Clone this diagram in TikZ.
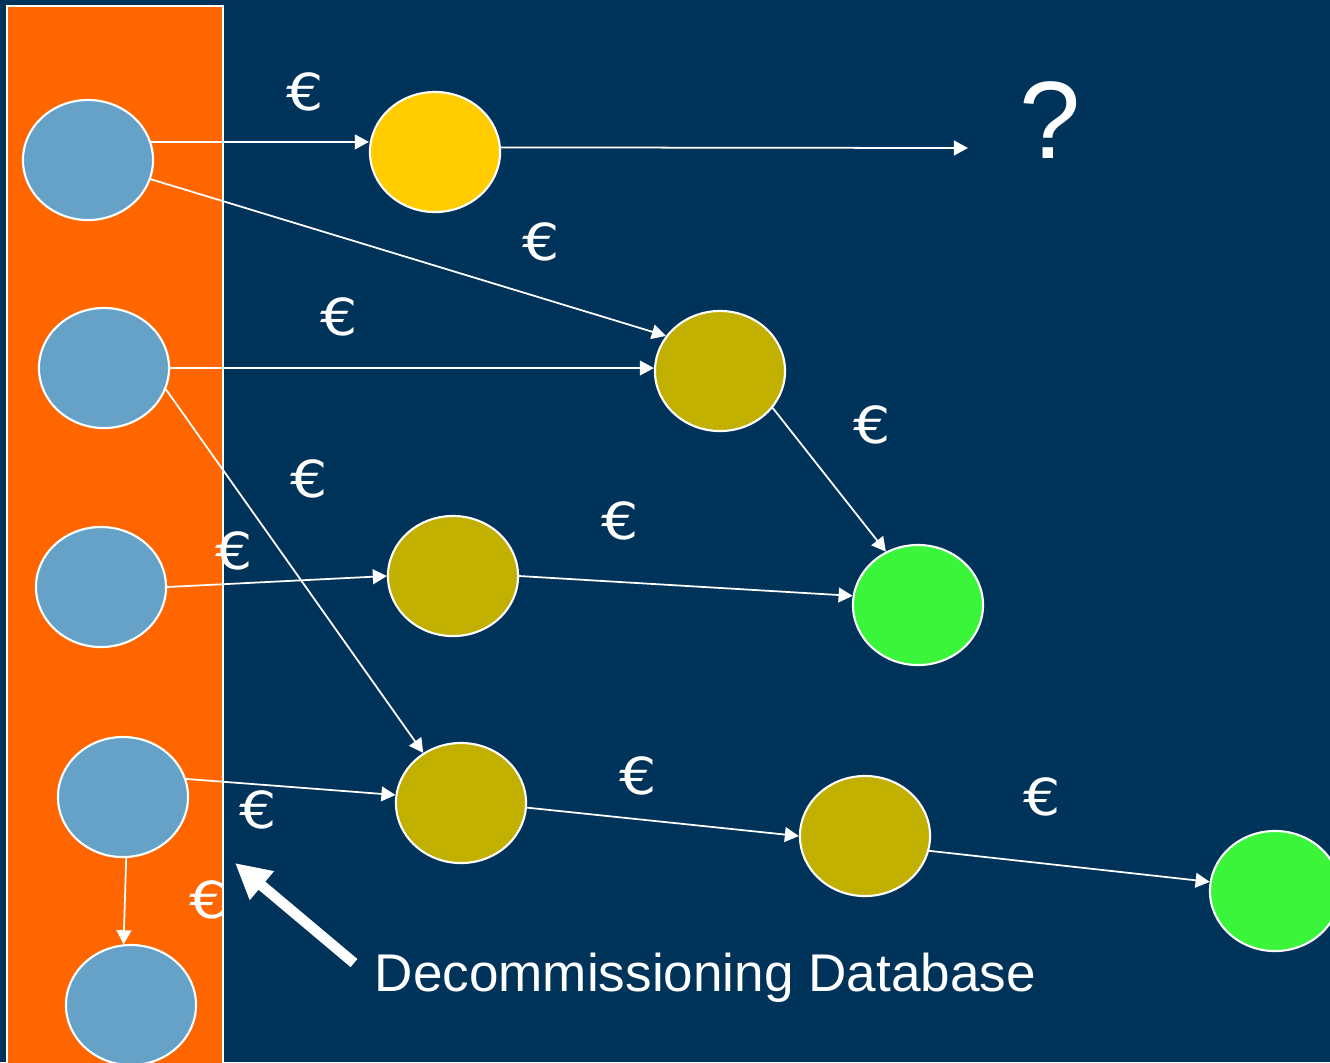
\documentclass[tikz,border=0pt]{standalone}
\usepackage{fontspec}
\setmainfont{Liberation Sans}
\newfontfamily\eurofont[FakeStretch=1.15]{DejaVu Sans}
\usetikzlibrary{shapes.geometric,arrows.meta}
\definecolor{navy}{RGB}{0,51,89}
\definecolor{dborange}{RGB}{255,102,0}
\definecolor{srcblue}{RGB}{102,161,200}
\definecolor{gold}{RGB}{255,204,0}
\definecolor{olive}{RGB}{193,176,0}
\definecolor{lime}{RGB}{58,245,58}
\begin{document}
\begin{tikzpicture}[x=0.01cm,y=-0.01cm,
    blob/.style={ellipse,draw=white,line width=0.6pt,minimum width=1.3cm,minimum height=1.2cm,inner sep=0pt},
    flow/.style={draw=white,line width=0.5pt,-{Triangle[length=4pt,width=4.2pt]}},
    euro/.style={text=white,font=\eurofont\fontsize{14.5}{14.5}\selectfont,anchor=base,inner sep=0pt}]
      \useasboundingbox (0,0) rectangle (1330,1062);
      \clip (0,0) rectangle (1330,1062);
      \fill[navy] (0,0) rectangle (1330,1062);
      \draw[fill=dborange,draw=white,line width=0.6pt] (7,6) rectangle (223,1080);
      \draw
        (88,160) node[blob,fill=srcblue] (d1){}
        (104,368) node[blob,fill=srcblue] (d2){}
        (101,587) node[blob,fill=srcblue] (d3){}
        (123,797) node[blob,fill=srcblue] (d4){}
        (131,1005) node[blob,fill=srcblue] (d5){}
        (435,152) node[blob,fill=gold] (y){}
        (720,371) node[blob,fill=olive] (o1){}
        (453,576) node[blob,fill=olive] (o2){}
        (461,803) node[blob,fill=olive] (o3){}
        (865,836) node[blob,fill=olive] (o4){}
        (918,605) node[blob,fill=lime] (g1){}
        (1275,891) node[blob,fill=lime] (g2){};
      \node[text=white,anchor=base,inner sep=0pt,font=\fontsize{31.3}{31.3}\selectfont] (q) at (1050,158) {?};
      \coordinate (qend) at (968,148);
      \begin{scope}[flow]
        \draw (d1.16) to (d1.16 -| y.west);
        \draw (y.4) to (qend);
        \draw (d1.-17) to (o1.147);
        \draw (d2.east) to (d2.east -| o1.west);
        \draw (d2.-19) to (o3.127);
        \draw (o1.-35) to (g1.121);
        \draw (d3.east) to (o2.west);
        \draw (o2.east) to (g1.172);
        \draw (d4.16) to (o3.173);
        \draw (o3.-4) to (o4.west);
        \draw (o4.-13) to (g2.172);
        \draw (d4.-87) to (d5.97);
      \end{scope}
      \draw
        (305,110) node[euro] (e1){€}
        (541,260) node[euro] (e2){€}
        (339,335) node[euro] (e3){€}
        (872,443) node[euro] (e4){€}
        (309,497) node[euro] (e5){€}
        (620,539) node[euro] (e6){€}
        (234,569) node[euro] (e7){€}
        (638,794) node[euro] (e8){€}
        (1042,815) node[euro] (e9){€}
        (258,828) node[euro] (e10){€};
      \begin{scope}
        \clip (0,0) rectangle (222,1062);
        \node[euro] (e11) at (208,918) {€};
      \end{scope}
      \node[text=white,anchor=base west,inner sep=0pt,font=\fontsize{15.1}{15.1}\selectfont] (dbtxt) at (374,991) {Decommissioning Database};
      \coordinate (tail) at (354,963);
      \coordinate (ptr) at (235,863);
      \draw[white,line width=3pt,-{Triangle[length=10pt,width=10pt]}] (tail) -- (ptr);
    \end{tikzpicture}
\end{document}
